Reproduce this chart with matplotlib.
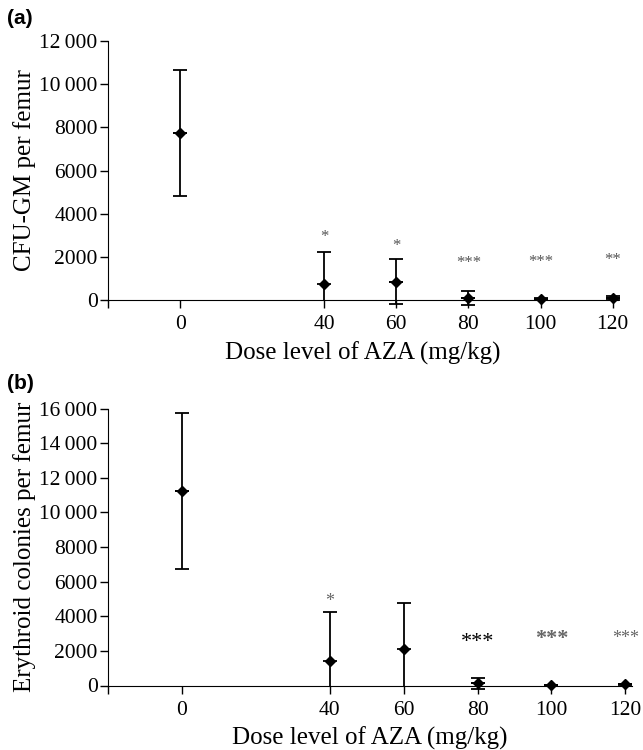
import numpy as np
import matplotlib
matplotlib.use("Agg")
from matplotlib import pyplot as plt

# data
doses = [0, 40, 60, 80, 100, 120]

# (a) CFU-GM per femur
cfu_mean = [7740, 730, 850, 110, 40, 80]
cfu_sd = [2930, 1510, 1050, 320, 50, 90]
cfu_stars = ["*", "*", "***", "***", "**"]
cfu_star_y = [2930, 2520, 1710, 1750, 1850]

# (b) Erythroid colonies per femur
ery_mean = [11240, 1390, 2110, 120, 10, 60]
ery_sd = [4500, 2860, 2660, 340, 20, 40]
ery_stars = ["*", "***", "***", "***"]
ery_star_x = [40, 80, 100, 120]
ery_star_y = [4870, 2480, 2670, 2710]

plt.rcParams['font.family'] = ['Liberation Serif', 'DejaVu Serif']

def fmt(v):
    v = int(v)
    if v >= 10000:
        return "%d\u2009%03d" % (v // 1000, v % 1000)
    return str(v)

def panel(ax, mean, sd, ymax, ystep, ylabel, xr):
    mean = np.array(mean, float)
    sd = np.array(sd, float)
    # upper bars with caps
    ax.errorbar(doses, mean, yerr=[np.zeros_like(sd), sd], fmt='none',
                ecolor='black', elinewidth=1.3, capsize=5, capthick=1.3, clip_on=False)
    # lower bars: far below axis are cut at 0 without a cap
    cut = mean - sd < -300
    lo = np.where(cut, mean, sd)
    x = np.array(doses)
    ax.errorbar(x[~cut], mean[~cut], yerr=[lo[~cut], np.zeros((~cut).sum())], fmt='none',
                ecolor='black', elinewidth=1.3, capsize=5, capthick=1.3, clip_on=False)
    ax.errorbar(x[cut], mean[cut], yerr=[lo[cut], np.zeros(cut.sum())], fmt='none',
                ecolor='black', elinewidth=1.3, capsize=0, clip_on=False)
    ax.plot(doses, mean, 'D', color='black', ms=5.5, clip_on=False, zorder=5)
    ax.set_xlim(-20, xr)
    ax.set_ylim(0, ymax)
    ax.spines['top'].set_visible(False)
    ax.spines['right'].set_visible(False)
    ax.set_xticks([-20] + doses)
    ax.set_xticklabels([''] + [str(d) for d in doses], fontsize=15.5)
    yt = np.arange(0, ymax + 1, ystep)
    ax.set_yticks(yt)
    ax.set_yticklabels([fmt(v) for v in yt], fontsize=15.5)
    ax.tick_params(direction='out', length=6, width=1, pad=1.5)
    ax.tick_params(axis='x', pad=5)
    ax.set_xlabel("Dose level of AZA (mg/kg)", fontsize=18, labelpad=5)
    ax.set_ylabel(ylabel, fontsize=18, labelpad=2)

fig = plt.figure(figsize=(6.43, 7.5), dpi=100)
W, H = 643.0, 750.0
axa = fig.add_axes([108 / W, 1 - 300 / H, (618 - 108) / W, (300 - 41) / H])
axb = fig.add_axes([108 / W, 1 - 685.5 / H, (632 - 108) / W, (685.5 - 408.5) / H])

panel(axa, cfu_mean, cfu_sd, 12000, 2000, "CFU-GM per femur", 121.5)
panel(axb, ery_mean, ery_sd, 16000, 2000, "Erythroid colonies per femur", 121.8)

for x, s, y in zip(doses[1:], cfu_stars, cfu_star_y):
    axa.text(x, y, s, ha='center', va='center', fontsize=12, color='#555555')

for x, s, y in zip(ery_star_x, ery_stars, ery_star_y):
    if x == 80:
        axb.text(x, y, s, ha='center', va='center', fontsize=16, color='black')
    elif x == 100:
        axb.text(x, y, s, ha='center', va='center', fontsize=16, color='#666666',
                 fontweight='bold')
    else:
        axb.text(x, y, s, ha='center', va='center', fontsize=13, color='#666666')

fig.text(7 / W, 1 - 18 / H, "(a)", fontsize=15, fontweight='bold',
         family='Liberation Sans', va='center', ha='left')
fig.text(7 / W, 1 - 383 / H, "(b)", fontsize=15, fontweight='bold',
         family='Liberation Sans', va='center', ha='left')

fig.savefig("out.png", dpi=100)
